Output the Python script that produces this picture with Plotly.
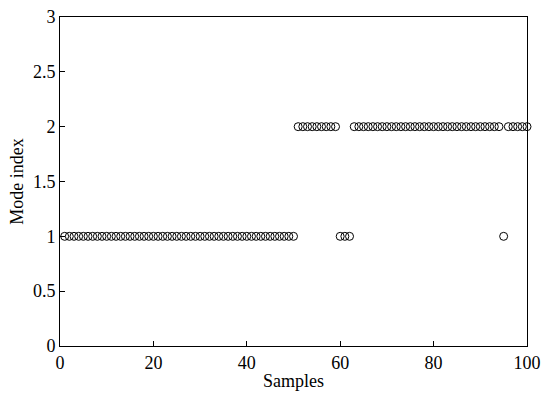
import plotly.graph_objects as go

samples = list(range(1, 101))
mode_index = ([1] * 50) + ([2] * 9) + ([1] * 3) + ([2] * 32) + [1] + ([2] * 5)

x_ticks = [0, 20, 40, 60, 80, 100]
y_ticks = [0, 0.5, 1, 1.5, 2, 2.5, 3]
y_tick_labels = ["0", "0.5", "1", "1.5", "2", "2.5", "3"]

fig = go.Figure()
fig.add_trace(go.Scatter(
    x=samples, y=mode_index, mode="markers", cliponaxis=False,
    marker=dict(symbol="circle-open", size=8, color="black", line=dict(width=1, color="black")),
    showlegend=False,
))

axis_common = dict(
    showgrid=False, zeroline=False, showline=True, linecolor="black", linewidth=1,
    mirror=True, ticks="inside", ticklen=5, tickcolor="black", automargin=False,
    tickfont=dict(family="Liberation Serif, Times New Roman, serif", size=18, color="black"),
)

fig.update_xaxes(range=[0, 100], tickvals=x_ticks,
                 title=dict(text="Samples", font=dict(family="Liberation Serif, serif", size=18, color="black"), standoff=2),
                 **axis_common)
fig.update_yaxes(range=[0, 3], tickvals=y_ticks, ticktext=y_tick_labels,
                 title=dict(text="Mode index", font=dict(family="Liberation Serif, serif", size=18, color="black"), standoff=4),
                 **axis_common)

fig.update_layout(
    width=548, height=396,
    margin=dict(l=60, r=21, t=17, b=50),
    plot_bgcolor="white", paper_bgcolor="white",
)

fig.write_html("out.html")
